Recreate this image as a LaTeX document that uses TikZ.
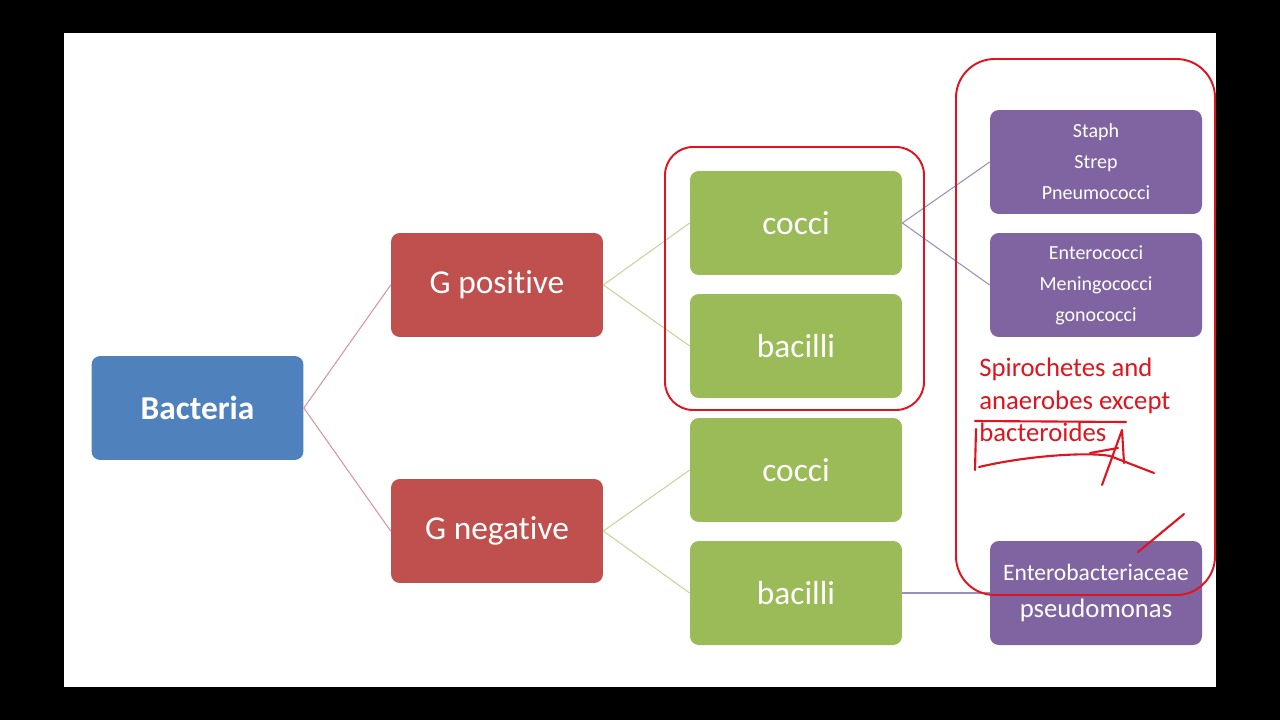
\documentclass[tikz,border=0pt]{standalone}
\usepackage{fontspec}
\setmainfont{Carlito}[Ligatures={NoCommon}]
\definecolor{cblue}{HTML}{4F81BD}
\definecolor{cred}{HTML}{C0504D}
\definecolor{cgreen}{HTML}{9BBB59}
\definecolor{cpurple}{HTML}{8064A2}
\definecolor{ink}{HTML}{E0141E}
\definecolor{lred}{HTML}{D9959A}
\definecolor{lgreen}{HTML}{C3D69B}
\definecolor{lpurple}{HTML}{9B8FB8}
\tikzset{
  box/.style={rounded corners=5pt, minimum width=4.24cm, minimum height=2.08cm, text=white, inner sep=0pt, align=center},
  bluebox/.style={box, fill=cblue, font=\fontsize{19}{23}\selectfont\bfseries},
  redbox/.style={box, fill=cred, font=\fontsize{19}{23}\selectfont},
  greenbox/.style={box, fill=cgreen, font=\fontsize{19}{23}\selectfont},
  purplebox/.style={box, fill=cpurple, font=\fontsize{11.4}{17.6}\selectfont},
  purplebig/.style={box, fill=cpurple, font=\fontsize{13.4}{21.5}\selectfont},
  redline/.style={draw=lred, line width=0.6pt},
  greenline/.style={draw=lgreen, line width=0.6pt},
  purpleline/.style={draw=lpurple, line width=0.6pt},
  inkline/.style={draw=ink, line width=1.1pt, rounded corners=16pt},
  inkstroke/.style={draw=ink, line width=1.2pt, line cap=round, line join=round},
  inktext/.style={text=ink, font=\fontsize{15.2}{18.5}\selectfont, align=left, anchor=north west, inner sep=0pt}
}
\begin{document}
\begin{tikzpicture}[x=0.02cm, y=-0.02cm]
\useasboundingbox (0,0) rectangle (1280,720);
\fill[black] (0,0) rectangle (1280,720);
\fill[white] (64,33) rectangle (1216,687);

\node[bluebox] (bact) at (197.5,408) {Bacteria};
\node[redbox] (gpos) at (497,285) {G positive};
\node[redbox] (gneg) at (497,531) {G negative};
\node[greenbox] (c1) at (796,223) {cocci};
\node[greenbox] (b1) at (796,346) {bacilli};
\node[greenbox] (c2) at (796,470) {cocci};
\node[greenbox] (b2) at (796,593) {bacilli};
\node[purplebox] (p1) at (1096,162) {Staph\\Strep\\Pneumococci};
\node[purplebox] (p2) at (1096,285) {Enterococci\\Meningococci\\gonococci};
\node[purplebig] (p3) at (1096,593) {Enterobacteriaceae\\{\fontsize{15.2}{21.5}\selectfont pseudomonas}};

\draw[redline] (bact.east) -- (gpos.west);
\draw[redline] (bact.east) -- (gneg.west);
\draw[greenline] (gpos.east) -- (c1.west);
\draw[greenline] (gpos.east) -- (b1.west);
\draw[greenline] (gneg.east) -- (c2.west);
\draw[greenline] (gneg.east) -- (b2.west);
\draw[purpleline] (c1.east) -- (p1.west);
\draw[purpleline] (c1.east) -- (p2.west);
\draw[purpleline] (b2.east) -- (p3.west);

% hand annotations
\draw[inkline] (665,147) rectangle (924,410);
\draw[inkline, rounded corners=22pt] (956,59) rectangle (1215,595);
\node[inktext] (note) at (979,358) {Spirochetes and\\anaerobes except\\bacteroides};
\draw[inkstroke] (975,421) -- (1126,422);
\draw[inkstroke] (976,429) -- (975,470);
\draw[inkstroke] (979,467) .. controls (1030,455) and (1090,452) .. (1110,456) -- (1154,473);
\draw[inkstroke] (1102,485) -- (1122,430) -- (1124,463);
\draw[inkstroke] (1090,453) -- (1118,448);
\draw[inkstroke] (1138,552) -- (1184,514);
\end{tikzpicture}
\end{document}
